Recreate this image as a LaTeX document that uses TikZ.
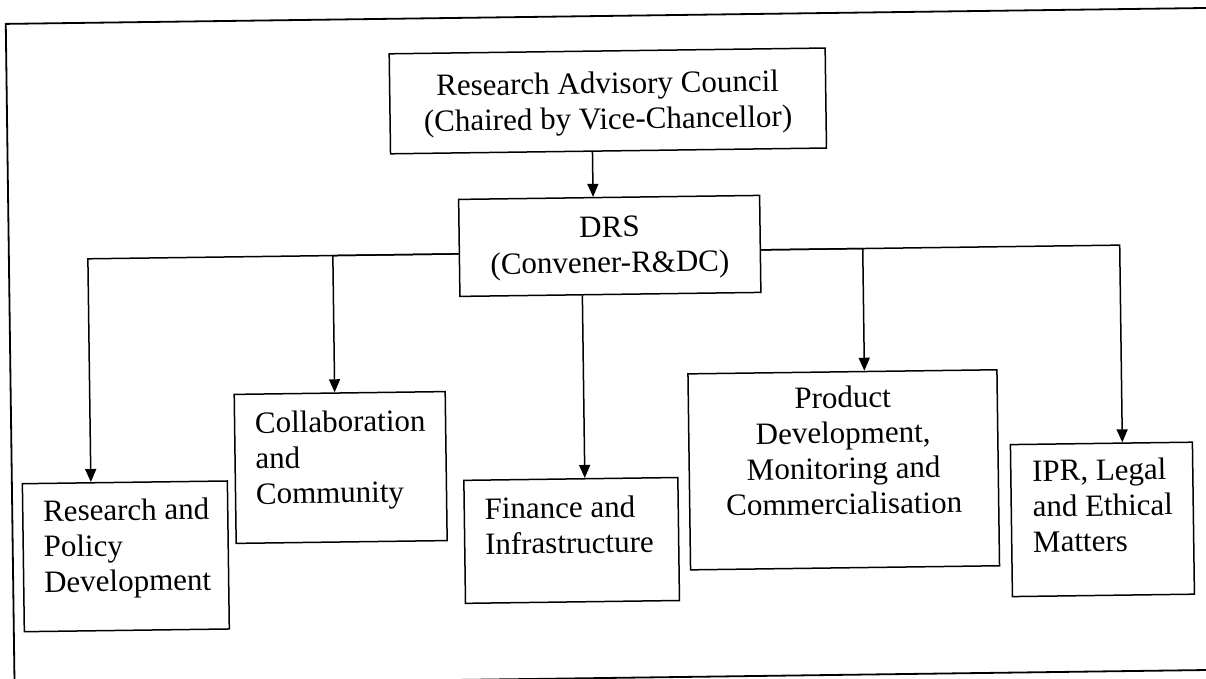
\documentclass[tikz,border=0pt]{standalone}
\usepackage{fontspec}
\setmainfont{Liberation Serif}
\usetikzlibrary{arrows.meta}
\begin{document}
\begin{tikzpicture}[x=1pt,y=-1pt,
  box/.style={draw=black, line width=1.5pt, inner sep=0pt, rectangle},
  txt/.style={inner sep=0pt, font=\fontsize{31}{35.5}\selectfont},
  link/.style={draw=black, line width=1.5pt},
  arr/.style={link, -{Triangle[length=13pt,width=11pt]}},
  frameline/.style={draw=black, line width=1.8pt}
]
\useasboundingbox (0,0) rectangle (1206,679);
\fill[white] (0,0) rectangle (1206,679);
\clip (0,0) rectangle (1206,679);
\begin{scope}[rotate around={0.76:(603,340)}, transform shape]
  % page frame
  \draw[frameline] (1300,16) -- (10,16) -- (10,720);
  \draw[frameline] (450,678) -- (1300,678);

  % boxes
  \node[box, minimum width=436pt, minimum height=100pt] (rac) at (611,101) {};
  \node[box, minimum width=301pt, minimum height=97pt]  (drs) at (611,246) {};
  \node[box, minimum width=205pt, minimum height=148pt] (rpd) at (123,550) {};
  \node[box, minimum width=211pt, minimum height=149pt] (cc)  at (339,464) {};
  \node[box, minimum width=214pt, minimum height=123pt] (fi)  at (569,540) {};
  \node[box, minimum width=309pt, minimum height=196pt] (pd)  at (842,473) {};
  \node[box, minimum width=182pt, minimum height=152pt] (ipr) at (1100,526) {};

  % box texts
  \node[txt, align=center] (racT) at ([yshift=-3pt]rac.center)
    {Research Advisory Council\\(Chaired by Vice-Chancellor)};
  \node[txt, align=center] (drsT) at ([yshift=-2pt]drs.center)
    {DRS\\(Convener-R\&DC)};
  \node[txt, align=left, anchor=north west] (rpdT)
    at ([xshift=21pt, yshift=-17pt]rpd.north west)
    {Research and\\Policy\\Development};
  \node[txt, align=left, anchor=north west] (ccT)
    at ([xshift=21pt, yshift=-18pt]cc.north west)
    {Collaboration\\and\\Community};
  \node[txt, align=left, anchor=north west] (fiT)
    at ([xshift=21pt, yshift=-18pt]fi.north west)
    {Finance and\\Infrastructure};
  \node[txt, align=center, anchor=north] (pdT)
    at ([yshift=-15pt]pd.north)
    {Product\\Development,\\Monitoring and\\Commercialisation};
  \node[txt, align=left, anchor=north west] (iprT)
    at ([xshift=22pt, yshift=-16pt]ipr.north west)
    {IPR, Legal\\and Ethical\\Matters};

  % connectors
  \draw[arr] ([xshift=-16pt]rac.south) -- ([xshift=-16pt]drs.north);
  \draw[arr] ([yshift=-6pt]drs.west) -| ([xshift=-34pt]rpd.north);
  \draw[arr] ([yshift=-6pt]drs.west) -| ([xshift=-5pt]cc.north);
  \draw[arr] ([xshift=-28pt]drs.south) -- ([xshift=14pt]fi.north);
  \draw[arr] ([yshift=-6pt]drs.east) -| ([xshift=22pt]pd.north);
  \draw[arr] ([yshift=-6pt]drs.east) -| ([xshift=21pt]ipr.north);
\end{scope}
\end{tikzpicture}
\end{document}
